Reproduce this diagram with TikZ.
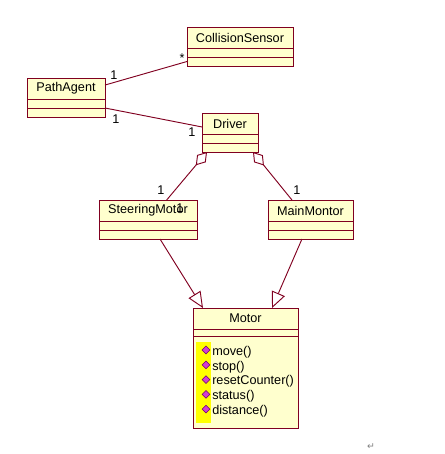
\documentclass[tikz,border=0pt]{standalone}
\usepackage{fontspec}
\setmainfont{Liberation Sans}
\newfontfamily\symfont{DejaVu Sans}
\usetikzlibrary{arrows.meta,positioning,shapes.geometric}
\definecolor{umlred}{RGB}{128,0,32}
\definecolor{umlfill}{RGB}{255,255,206}
\definecolor{opsyellow}{RGB}{255,255,0}
\definecolor{opspink}{RGB}{210,60,210}
\definecolor{opsdark}{RGB}{110,0,110}

\begin{document}
\begin{tikzpicture}[x=0.75pt, y=-0.75pt, font=\fontsize{9.5}{11}\selectfont,
    cname/.style={rectangle, draw=umlred, fill=umlfill, line width=0.75pt,
                  inner sep=0pt, outer sep=0pt, minimum height=15.75pt},
    ccomp/.style={rectangle, draw=umlred, fill=umlfill, line width=0.75pt,
                  inner sep=0pt, outer sep=0pt, minimum height=6.75pt},
    assoc/.style={draw=umlred, line width=0.7pt},
    aggr/.style={assoc, arrows={Diamond[open, length=13pt, width=8.5pt]-}},
    gen/.style={assoc, arrows={-Triangle[open, length=12pt, width=10.5pt]}},
    mult/.style={inner sep=0pt},
    opname/.style={inner sep=0pt, anchor=west},
    opicon/.style={diamond, fill=opspink, draw=opsdark, line width=0.4pt,
                   inner sep=0pt, minimum size=6pt}]
\useasboundingbox (0,0) rectangle (444,454);
% classes: name, attributes, operations
\foreach \n/\t/\x/\y/\w in {cs/CollisionSensor/240/27/106, pa/PathAgent/66/78/78,
    dr/Driver/230/113/56, sm/SteeringMotor/148/200/98, mm/MainMontor/310.5/200/85} {
    \node[cname, minimum width=\w*0.75pt, anchor=north] (\n) at (\x,\y) {\t};
    \node[ccomp, minimum width=\w*0.75pt, below=0pt of \n] (\n-a) {};
    \node[ccomp, minimum width=\w*0.75pt, below=0pt of \n-a] (\n-o) {};
}
\node[cname, minimum width=78.75pt, anchor=north] (mo) at (245.5,308) {Motor};
\node[ccomp, minimum width=78.75pt, minimum height=5.25pt, below=0pt of mo] (mo-a) {};
\node[ccomp, minimum width=78.75pt, minimum height=69pt, below=0pt of mo-a] (mo-o) {};
\fill[opsyellow] (196,342) rectangle (211,423);
\foreach \i/\op in {0/move(), 1/stop(), 2/resetCounter(), 3/status(), 4/distance()} {
    \node[opname] (op\i) at (212,352+\i*14.8) {\op};
    \node[opicon] (ic\i) at (206,350+\i*14.8) {};
}
% associations
\draw[assoc] ([yshift=2.6pt]pa.east) -- (cs-o.west);
\draw[assoc] (pa-a.south east) -- ([yshift=-2.6pt]dr.west);
\draw[aggr] ([xshift=3.75pt]dr-o.south west) -- ([xshift=14pt]sm.north);
\draw[aggr] ([xshift=-3.75pt]dr-o.south east) -- ([xshift=-13.9pt]mm.north);
% generalizations
\draw[gen] ([xshift=9pt]sm-o.south) -- ([xshift=-31.9pt]mo.north);
\draw[gen] ([xshift=-6.4pt]mm-o.south) -- ([xshift=19.9pt]mo.north);
% multiplicities
\node[mult] (m1) at (114,75) {1};
\node[mult] (m2) at (182,58) {*};
\node[mult] (m3) at (116,119) {1};
\node[mult] (m4) at (192,132) {1};
\node[mult] (m5) at (161,190) {1};
\node[mult] (m6) at (180,208) {1};
\node[mult] (m7) at (297,190) {1};
\node[font=\symfont\fontsize{7}{8}\selectfont, text=gray] (ret) at (371,447) {↵};
\end{tikzpicture}
\end{document}
